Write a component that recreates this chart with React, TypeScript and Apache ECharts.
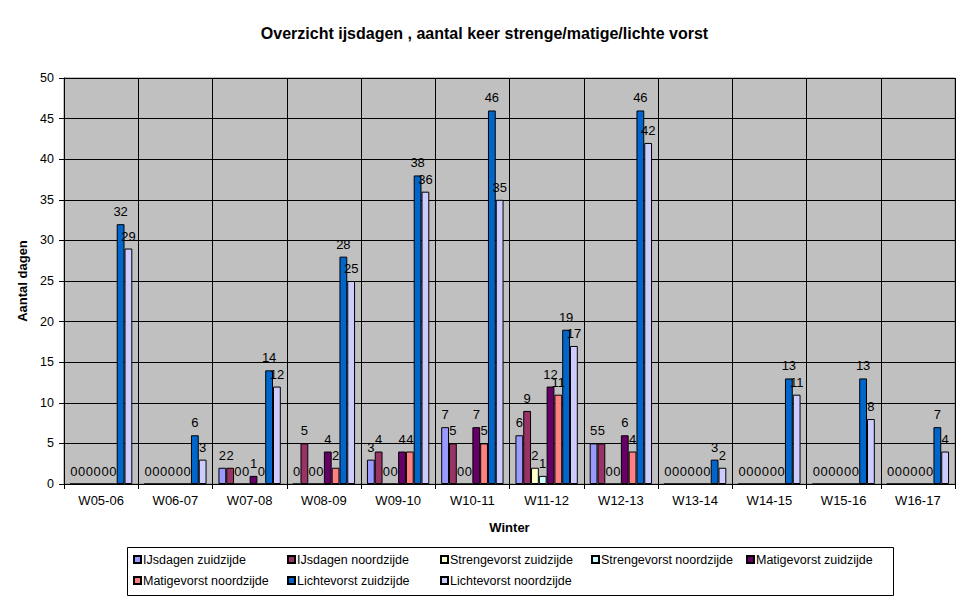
import { useEffect, useRef } from "react";
import * as echarts from "echarts";

const winters = ["W05-06", "W06-07", "W07-08", "W08-09", "W09-10", "W10-11", "W11-12", "W12-13", "W13-14", "W14-15", "W15-16", "W16-17"];
const seriesNames = [
  "IJsdagen zuidzijde",
  "IJsdagen noordzijde",
  "Strengevorst zuidzijde",
  "Strengevorst noordzijde",
  "Matigevorst zuidzijde",
  "Matigevorst noordzijde",
  "Lichtevorst zuidzijde",
  "Lichtevorst noordzijde",
];
const ijsdagenZuid = [0, 0, 2, 0, 3, 7, 6, 5, 0, 0, 0, 0];
const ijsdagenNoord = [0, 0, 2, 5, 4, 5, 9, 5, 0, 0, 0, 0];
const strengeZuid = [0, 0, 0, 0, 0, 0, 2, 0, 0, 0, 0, 0];
const strengeNoord = [0, 0, 0, 0, 0, 0, 1, 0, 0, 0, 0, 0];
const matigeZuid = [0, 0, 1, 4, 4, 7, 12, 6, 0, 0, 0, 0];
const matigeNoord = [0, 0, 0, 2, 4, 5, 11, 4, 0, 0, 0, 0];
const lichteZuid = [32, 6, 14, 28, 38, 46, 19, 46, 3, 13, 13, 7];
const lichteNoord = [29, 3, 12, 25, 36, 35, 17, 42, 2, 11, 8, 4];
const colors = ["#9999FF", "#993366", "#FFFFCC", "#CCFFFF", "#660066", "#FF8080", "#0066CC", "#CCCCFF"];

const FONT = "'Liberation Sans', Arial, sans-serif";

export default function App() {
  const ref = useRef<HTMLDivElement>(null);
  useEffect(() => {
    document.body.style.margin = "0";
    if (!ref.current) return;
    const chart = echarts.init(ref.current, undefined, { renderer: "svg" });
    const values = [ijsdagenZuid, ijsdagenNoord, strengeZuid, strengeNoord, matigeZuid, matigeNoord, lichteZuid, lichteNoord];
    const legX = [133, 287, 440, 591, 746, 133, 287, 440];
    const legY = [553, 553, 553, 553, 553, 574, 574, 574];
    chart.setOption({
      animation: false,
      textStyle: { fontFamily: FONT },
      title: {
        text: "Overzicht ijsdagen , aantal keer strenge/matige/lichte vorst",
        left: "center",
        top: 20,
        textStyle: { fontSize: 16, fontWeight: "bold", color: "#000", fontFamily: FONT },
      },
      grid: {
        left: 64,
        right: 14,
        top: 78,
        bottom: 118,
        show: true,
        backgroundColor: "#C0C0C0",
        borderColor: "#808080",
        borderWidth: 1,
      },
      graphic: [
        {
          type: "rect",
          left: 127,
          top: 547,
          shape: { width: 766, height: 48 },
          style: { fill: "transparent", stroke: "#000", lineWidth: 1 },
          z: 0,
        },
      ],
      legend: seriesNames.map((n, i) => ({
        data: [n],
        left: legX[i],
        top: legY[i],
        padding: 0,
        itemWidth: 7,
        itemHeight: 7,
        itemGap: 0,
        icon: "rect",
        selectedMode: false,
        textStyle: { fontSize: 12.5, color: "#000", fontFamily: FONT, padding: [0, 0, 0, -3] },
      })),
      xAxis: {
        type: "category",
        data: winters,
        name: "Winter",
        nameLocation: "middle",
        nameGap: 37,
        nameTextStyle: { fontSize: 13, fontWeight: "bold", color: "#000", fontFamily: FONT },
        axisLine: { lineStyle: { color: "#000", width: 1 } },
        axisTick: { show: true, length: 5, lineStyle: { color: "#000" } },
        axisLabel: { fontSize: 13, color: "#000", margin: 10, fontFamily: FONT },
        splitLine: { show: true, lineStyle: { color: "#000", width: 1 } },
      },
      yAxis: {
        type: "value",
        min: 0,
        max: 50,
        interval: 5,
        name: "Aantal dagen",
        nameLocation: "middle",
        nameGap: 30,
        nameRotate: 90,
        nameTextStyle: { fontSize: 13, fontWeight: "bold", color: "#000", fontFamily: FONT },
        axisLine: { show: true, lineStyle: { color: "#000", width: 1 } },
        axisTick: { show: true, length: 5, lineStyle: { color: "#000" } },
        axisLabel: { fontSize: 12.5, color: "#000", margin: 10, fontFamily: FONT },
        splitLine: { show: true, lineStyle: { color: "#000", width: 1 } },
      },
      series: seriesNames.map((n, i) => ({
        name: n,
        type: "bar",
        data: values[i],
        barGap: "0%",
        barCategoryGap: "16%",
        itemStyle: { color: colors[i], borderColor: "#000", borderWidth: 1 },
        label: {
          show: true,
          position: "top",
          distance: 6,
          fontSize: 13,
          color: "#000",
          fontFamily: FONT,
        },
      })),
    });
    return () => chart.dispose();
  }, []);
  return <div ref={ref} style={{ width: 969, height: 602 }} />;
}
